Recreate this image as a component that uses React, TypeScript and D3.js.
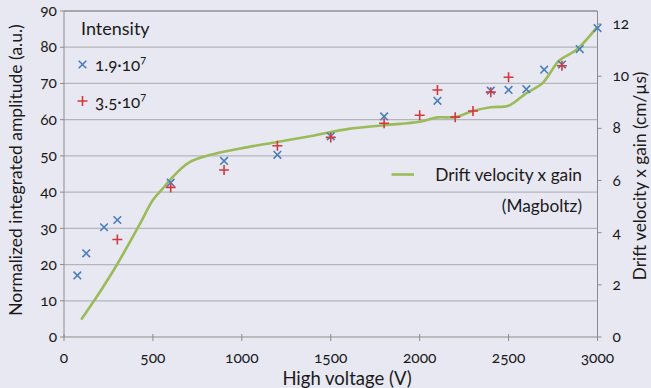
import React from "react";
import * as d3 from "d3";

const blueV = [75, 125, 225, 300, 600, 900, 1200, 1500, 1800, 2100, 2400, 2500, 2600, 2700, 2800, 2900, 3000];
const blueY = [17.0, 23.1, 30.3, 32.3, 42.6, 48.6, 50.3, 55.4, 60.9, 65.2, 68.0, 68.2, 68.4, 73.8, 75.2, 79.5, 85.3];
const redV = [300, 600, 900, 1200, 1500, 1800, 2000, 2100, 2200, 2300, 2400, 2500, 2800];
const redY = [26.9, 41.3, 46.1, 52.8, 55.1, 59.0, 61.2, 68.2, 60.7, 62.4, 67.6, 71.7, 74.9];
const greenV = [100, 185, 300, 420, 500, 550, 600, 700, 850, 1000, 1200, 1400, 1600, 1800, 2000, 2100, 2200, 2300, 2400, 2500, 2600, 2690, 2785, 2880, 3000];
const greenY = [0.7, 1.55, 2.8, 4.25, 5.25, 5.65, 6.05, 6.68, 7.03, 7.24, 7.48, 7.72, 7.98, 8.12, 8.25, 8.42, 8.43, 8.67, 8.81, 8.87, 9.35, 9.73, 10.6, 11.0, 11.9];
const xTicks = [0, 500, 1000, 1500, 2000, 2500, 3000];
const yTicks = [0, 10, 20, 30, 40, 50, 60, 70, 80, 90];
const y2Ticks = [0, 2, 4, 6, 8, 10, 12];

const W = 651, H = 388;
const L = 64, R = 597.5, T = 11, B = 337;
const FONT = "Lato, 'Open Sans', sans-serif";
const BLUE = "#4a7ebb", RED = "#d2393d", GREEN = "#9bbb59";

export default function App() {
  const x = d3.scaleLinear().domain([0, 3000]).range([L, R]);
  const y = d3.scaleLinear().domain([0, 90]).range([B, T]);
  const y2 = d3.scaleLinear().domain([0, 12.5]).range([B, T]);
  const line = d3.line<number>()
    .x((_, i) => x(greenV[i]))
    .y((d) => y2(d))
    .curve(d3.curveCatmullRom.alpha(0.5));
  const cross = (cx: number, cy: number, s: number) =>
    `M${cx - s},${cy - s}L${cx + s},${cy + s}M${cx - s},${cy + s}L${cx + s},${cy - s}`;
  const plus = (cx: number, cy: number, s: number) =>
    `M${cx - s},${cy}L${cx + s},${cy}M${cx},${cy - s}L${cx},${cy + s}`;
  const txt: React.CSSProperties = { fontFamily: FONT, fontFeatureSettings: "'onum'", fill: "#1a1a1a" };

  return (
    <svg width={W} height={H} style={{ position: "absolute", left: 0, top: 0, background: "#e8e8f2" }}>
      <rect x={0} y={0} width={W} height={H} fill="#e8e8f2" />
      {yTicks.map((t) => (
        <line key={"g" + t} x1={L} x2={R} y1={y(t)} y2={y(t)} stroke={t === 0 ? "#8c8c8c" : "#b4b4bc"} strokeWidth={t === 0 ? 1 : 1.3} />
      ))}
      <line x1={L} x2={L} y1={T} y2={B} stroke="#8c8c8c" />
      <line x1={R} x2={R} y1={T} y2={B} stroke="#8c8c8c" />
      <line x1={L} x2={R} y1={T} y2={T} stroke="#8c8c8c" />
      {yTicks.map((t) => (
        <g key={"yt" + t}>
          <line x1={L - 4} x2={L} y1={y(t)} y2={y(t)} stroke="#8c8c8c" />
          <text x={L - 7} y={y(t) + 5} textAnchor="end" fontSize={15.5} style={txt}>{t}</text>
        </g>
      ))}
      {y2Ticks.map((t) => (
        <g key={"y2t" + t}>
          <line x1={R} x2={R + 4} y1={y2(t)} y2={y2(t)} stroke="#8c8c8c" />
          <text x={R + 15} y={y2(t) + 5} textAnchor="start" fontSize={15.5} style={txt}>{t}</text>
        </g>
      ))}
      {xTicks.map((t) => (
        <g key={"xt" + t}>
          <line x1={x(t)} x2={x(t)} y1={B - 3} y2={B + 4} stroke="#8c8c8c" />
          <text x={x(t)} y={363} textAnchor="middle" fontSize={15.5} style={txt}>{t}</text>
        </g>
      ))}
      <path d={line(greenY) || ""} fill="none" stroke={GREEN} strokeWidth={2.6} strokeLinecap="round" />
      {blueV.map((v, i) => (
        <path key={"b" + i} d={cross(x(v), y(blueY[i]), 3.8)} stroke={BLUE} strokeWidth={1.6} fill="none" />
      ))}
      {redV.map((v, i) => (
        <path key={"r" + i} d={plus(x(v), y(redY[i]), 5)} stroke={RED} strokeWidth={1.6} fill="none" />
      ))}
      <text x={81} y={35} fontSize={18} style={txt}>Intensity</text>
      <path d={cross(82.5, 64.5, 3.8)} stroke={BLUE} strokeWidth={1.6} fill="none" />
      <text x={95} y={70.5} fontSize={17} style={txt}>1.9·10<tspan dy={-7} fontSize={11}>7</tspan></text>
      <path d={plus(82.5, 101, 5)} stroke={RED} strokeWidth={1.6} fill="none" />
      <text x={95} y={107.5} fontSize={17} style={txt}>3.5·10<tspan dy={-7} fontSize={11}>7</tspan></text>
      <line x1={391.5} x2={414} y1={174.5} y2={174.5} stroke={GREEN} strokeWidth={2.6} />
      <text x={582} y={180.5} textAnchor="end" fontSize={17.3} style={txt}>Drift velocity x gain</text>
      <text x={582} y={211.5} textAnchor="end" fontSize={17.3} style={txt}>(Magboltz)</text>
      <text x={347} y={385} textAnchor="middle" fontSize={18.5} style={txt}>High voltage (V)</text>
      <text transform={`translate(22,170) rotate(-90)`} textAnchor="middle" fontSize={17.5} style={txt}>Normalized integrated amplitude (a.u.)</text>
      <text transform={`translate(646,176) rotate(-90)`} textAnchor="middle" fontSize={17.3} style={txt}>Drift velocity x gain (cm/µs)</text>
    </svg>
  );
}
